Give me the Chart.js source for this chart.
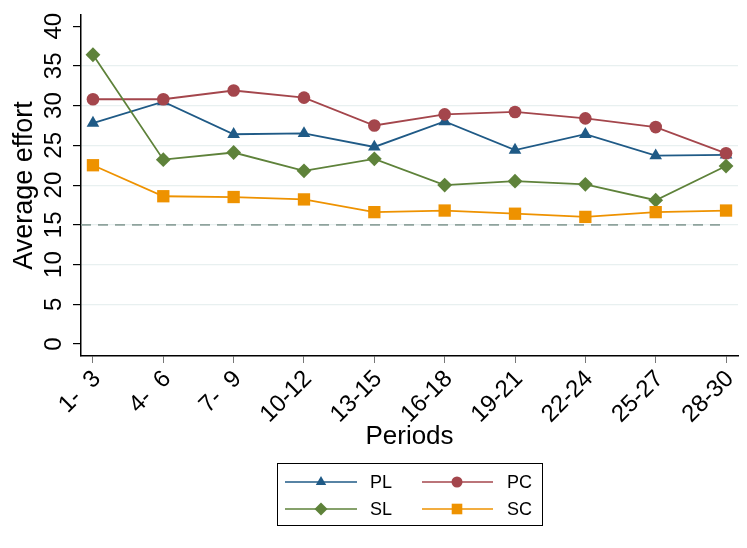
<!DOCTYPE html>
<html>
<head>
<meta charset="utf-8">
<script src="https://cdn.jsdelivr.net/npm/chart.js@4.4.1/dist/chart.umd.min.js"></script>
<style>
  body { margin: 0; background: #fff; }
  canvas { display: block; }
</style>
</head>
<body>
<canvas id="grafica" width="747" height="548"></canvas>
<script>
// data
const periods = ['1-  3', '4-  6', '7-  9', '10-12', '13-15', '16-18', '19-21', '22-24', '25-27', '28-30'];
const PL = [27.8, 30.5, 26.4, 26.5, 24.8, 28.0, 24.4, 26.4, 23.7, 23.8];
const PC = [30.8, 30.8, 31.9, 31.0, 27.5, 28.9, 29.2, 28.4, 27.3, 24.0];
const SL = [36.4, 23.2, 24.1, 21.8, 23.3, 20.0, 20.5, 20.1, 18.1, 22.4];
const SC = [22.5, 18.6, 18.5, 18.2, 16.6, 16.8, 16.4, 16.0, 16.6, 16.8];
const refLevel = 15;
const yTicks = [0, 5, 10, 15, 20, 25, 30, 35, 40];

const FONT = "'Liberation Sans', Arial, Helvetica, sans-serif";

function pts(arr) {
  return arr.map((v, i) => ({ x: i, y: v }));
}

function serie(label, values, color, style, radius, order) {
  return {
    label: label,
    data: pts(values),
    borderColor: color,
    backgroundColor: color,
    pointBackgroundColor: color,
    pointBorderColor: color,
    pointBorderWidth: 0,
    pointStyle: style,
    pointRadius: radius,
    borderWidth: 1.8,
    tension: 0,
    order: order
  };
}

const datasets = [
  serie('PL', PL, '#1f5a86', 'triangle', 7.3, 4),
  serie('PC', PC, '#a4464c', 'circle', 6.3, 3),
  serie('SL', SL, '#5e823a', 'rectRot', 7.4, 2),
  serie('SC', SC, '#ee9200', 'rect', 8.7, 1),
  {
    label: 'ref',
    data: [{ x: -0.17, y: refLevel }, { x: 9, y: refLevel }],
    borderColor: '#8fa39d',
    borderWidth: 1.6,
    borderDash: [10, 7],
    pointRadius: 0,
    order: 5
  }
];

// legend in a box under the plot, two columns
const boxLegend = {
  id: 'boxLegend',
  afterDraw(chart) {
    const ctx = chart.ctx;
    ctx.save();
    ctx.fillStyle = '#fff';
    ctx.fillRect(277, 463, 266, 63);
    ctx.strokeStyle = '#000';
    ctx.lineWidth = 1;
    ctx.strokeRect(277.5, 463.5, 265, 62);
    const cols = [{ a: 285, b: 357, m: 321, t: 370 }, { a: 422, b: 493, m: 457, t: 507 }];
    const rows = [482, 509];
    const sizes = { triangle: 6, circle: 5.5, rectRot: 6.5, rect: 7.5 };
    for (let i = 0; i < 4; i++) {
      const ds = chart.data.datasets[i];
      const c = cols[i % 2];
      const y = rows[Math.floor(i / 2)];
      ctx.strokeStyle = ds.borderColor;
      ctx.lineWidth = 1.6;
      ctx.beginPath();
      ctx.moveTo(c.a, y);
      ctx.lineTo(c.b, y);
      ctx.stroke();
      ctx.fillStyle = ds.borderColor;
      Chart.helpers.drawPoint(ctx, { pointStyle: ds.pointStyle, radius: sizes[ds.pointStyle], borderWidth: 0 }, c.m, y);
      ctx.fillStyle = '#000';
      ctx.font = '18px ' + FONT;
      ctx.textAlign = 'left';
      ctx.textBaseline = 'middle';
      ctx.fillText(ds.label, c.t, y + 1);
    }
    ctx.restore();
  }
};

const graph = document.getElementById('grafica');
const grafico = new Chart(graph, {
  type: 'line',
  data: { datasets: datasets },
  plugins: [boxLegend],
  options: {
    responsive: false,
    devicePixelRatio: 1,
    animation: false,
    layout: { padding: { top: 15, right: 9, left: 9, bottom: 96 } },
    plugins: {
      legend: { display: false },
      tooltip: { enabled: false }
    },
    scales: {
      x: {
        type: 'linear',
        min: -0.17,
        max: 9.17,
        afterFit: (s) => { s.height = 96; s.paddingLeft = 0; s.paddingRight = 0; },
        afterBuildTicks: (s) => { s.ticks = periods.map((p, i) => ({ value: i })); },
        ticks: {
          autoSkip: false,
          minRotation: 45,
          maxRotation: 45,
          padding: 2,
          labelOffset: 4,
          color: '#000',
          font: { family: FONT, size: 24 },
          callback: (v) => periods[v]
        },
        grid: { drawOnChartArea: false, color: '#777', tickColor: '#777', tickLength: 7 },
        border: { color: '#000', width: 1.5 },
        title: {
          display: true,
          text: 'Periods',
          color: '#000',
          padding: { top: 0, bottom: 0 },
          font: { family: FONT, size: 26, lineHeight: 1.15 }
        }
      },
      y: {
        min: -1.5,
        max: 41.4,
        afterFit: (s) => { s.width = 72; s.paddingTop = 0; s.paddingBottom = 0; },
        afterBuildTicks: (s) => { s.ticks = yTicks.map(v => ({ value: v })); },
        ticks: {
          minRotation: 90,
          maxRotation: 90,
          crossAlign: 'center',
          padding: 5,
          color: '#000',
          font: { family: FONT, size: 24 }
        },
        grid: {
          color: (c) => (c.tick && c.tick.value > 0 && c.tick.value < 40) ? '#e8f0f0' : 'rgba(0,0,0,0)',
          tickColor: '#000',
          tickLength: 8,
          lineWidth: 1.2
        },
        border: { color: '#000', width: 1.5 },
        title: {
          display: true,
          text: 'Average effort',
          color: '#000',
          padding: { top: 0, bottom: 0 },
          font: { family: FONT, size: 27, lineHeight: 1.15 }
        }
      }
    }
  }
});
</script>
</body>
</html>
